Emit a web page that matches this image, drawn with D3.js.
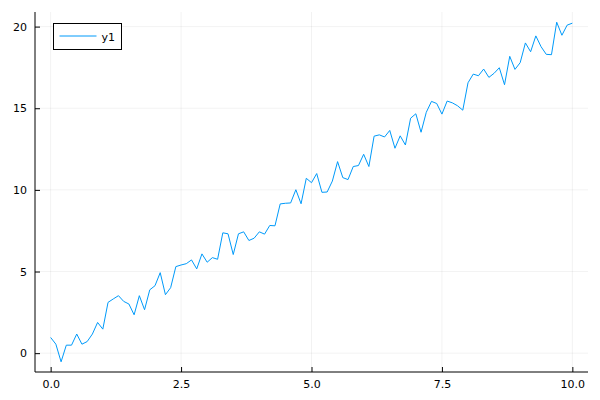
<!DOCTYPE html>
<html lang="en">
<head>
  <meta charset="UTF-8">
  <title>y1</title>
  <script src="https://d3js.org/d3.v7.min.js"></script>
  <style>
    body { margin: 0; overflow: hidden; background: #fff; }
    svg { display: block; }
    text { font-family: "DejaVu Sans", sans-serif; }
  </style>
</head>
<body>
  <svg id="chart" width="600" height="400"></svg>

  <script>
    // values, x = 0, 0.1, ..., 10
    const xs = d3.range(0, 101).map(i => i / 10);
    const y1 = [
      0.96, 0.55, -0.53, 0.49, 0.49, 1.17, 0.55, 0.71, 1.17, 1.88,
      1.47, 3.11, 3.32, 3.52, 3.17, 3.01, 2.35, 3.52, 2.66, 3.88,
      4.13, 4.93, 3.58, 4.01, 5.30, 5.40, 5.48, 5.71, 5.16, 6.08,
      5.57, 5.85, 5.75, 7.37, 7.31, 6.04, 7.31, 7.43, 6.90, 7.04,
      7.43, 7.29, 7.82, 7.80, 9.14, 9.18, 9.20, 10.01, 9.15, 10.71,
      10.44, 11.00, 9.85, 9.87, 10.54, 11.73, 10.75, 10.63, 11.43, 11.49,
      12.18, 11.43, 13.29, 13.37, 13.24, 13.64, 12.55, 13.31, 12.75, 14.39,
      14.66, 13.53, 14.75, 15.42, 15.29, 14.64, 15.44, 15.33, 15.15, 14.88,
      16.56, 17.09, 16.99, 17.40, 16.89, 17.14, 17.48, 16.44, 18.18, 17.38,
      17.79, 19.00, 18.46, 19.43, 18.77, 18.30, 18.28, 20.27, 19.47, 20.09,
      20.21
    ];
    const xTicks = [0, 2.5, 5, 7.5, 10];
    const yTicks = [0, 5, 10, 15, 20];
    const seriesName = "y1";

    const svg = d3.select("#chart");
    const plotL = 35, plotR = 588, plotT = 12, plotB = 372;

    // Plots.jl pads each axis by 3% of the data range
    const pad = (lo, hi) => [lo - 0.03 * (hi - lo), hi + 0.03 * (hi - lo)];
    const x = d3.scaleLinear().domain(pad(0, 10)).range([plotL, plotR]);
    const y = d3.scaleLinear().domain(pad(d3.min(y1), d3.max(y1))).range([plotB, plotT]);

    // grid
    const grid = svg.append("g").attr("stroke", "#000").attr("stroke-opacity", 0.1).attr("stroke-width", 0.5);
    grid.selectAll(".gx").data(xTicks).join("line").attr("class", "gx")
      .attr("x1", d => x(d)).attr("x2", d => x(d))
      .attr("y1", plotT).attr("y2", plotB);
    grid.selectAll(".gy").data(yTicks).join("line").attr("class", "gy")
      .attr("x1", plotL).attr("x2", plotR)
      .attr("y1", d => y(d)).attr("y2", d => y(d));

    // axes, ticks pointing inward
    const xAxis = svg.append("g")
      .attr("transform", `translate(0,${plotB})`)
      .call(d3.axisTop(x).tickValues(xTicks).tickSize(5).tickFormat(d3.format(".1f")));
    xAxis.select(".domain").attr("d", `M${plotL},0H${plotR}`);
    xAxis.selectAll("text").attr("y", 8).attr("dy", "0.71em");

    const yAxis = svg.append("g")
      .attr("transform", `translate(${plotL},0)`)
      .call(d3.axisRight(y).tickValues(yTicks).tickSize(5).tickFormat(d3.format("d")));
    yAxis.select(".domain").attr("d", `M0,${plotB}V${plotT}`);
    yAxis.selectAll("text").attr("x", -8).attr("text-anchor", "end");

    svg.selectAll(".domain, .tick line").attr("stroke", "#000").attr("stroke-width", 1);
    svg.selectAll(".tick text").attr("font-size", 11).attr("fill", "#000")
      .style("font-family", "DejaVu Sans, sans-serif");

    // series
    const line = d3.line().x((d, i) => x(xs[i])).y(d => y(d));
    svg.append("path")
      .datum(y1)
      .attr("fill", "none")
      .attr("stroke", "#009afa")
      .attr("stroke-width", 1)
      .attr("stroke-linejoin", "round")
      .attr("d", line);

    // legend
    const legend = svg.append("g").attr("transform", "translate(53.5,23.5)");
    legend.append("rect").attr("width", 68).attr("height", 26)
      .attr("fill", "#fff").attr("stroke", "#000").attr("stroke-width", 1);
    legend.append("line").attr("x1", 6).attr("x2", 43).attr("y1", 12.5).attr("y2", 12.5)
      .attr("stroke", "#009afa").attr("stroke-width", 1);
    legend.append("text").attr("x", 48).attr("y", 17).attr("font-size", 11).text(seriesName);
  </script>
</body>
</html>
